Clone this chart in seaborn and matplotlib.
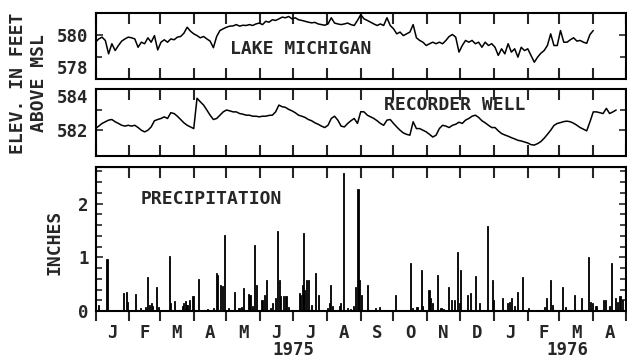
import numpy as np
import pandas as pd
import matplotlib
matplotlib.use("Agg")
import matplotlib.pyplot as plt
import seaborn as sns
from matplotlib.ticker import MultipleLocator

# ---------------- data ----------------
START = pd.Timestamp("1975-01-01")
END = pd.Timestamp("1976-05-01")
STEP_DAYS = 3  # readings every 3 days

# Lake Michigan elevation, ft above MSL (every 3 days from 1975-01-01)
lake_ft = [
    579.65, 579.80, 579.88, 579.73, 579.12, 579.58, 579.27, 579.50, 579.70, 579.80,
    579.88, 579.85, 579.80, 579.42, 579.65, 579.58, 579.85, 579.65, 579.95, 579.30,
    579.65, 579.76, 579.65, 579.80, 579.76, 579.88, 579.91, 580.06, 580.33, 580.15,
    580.03, 579.95, 579.85, 579.91, 579.80, 579.70, 579.40, 579.91, 580.18, 580.26,
    580.33,
    580.38, 580.39, 580.45, 580.38, 580.42, 580.41, 580.45, 580.41, 580.48, 580.52,
    580.45, 580.60, 580.56, 580.67, 580.64, 580.71, 580.79, 580.76, 580.82, 580.71,
    580.76, 580.67, 580.64, 580.60, 580.56, 580.53, 580.55, 580.48, 580.45, 580.42,
    580.48, 580.76, 580.52, 580.48, 580.45, 580.48, 580.52, 580.45, 580.41, 580.64,
    580.90,
    580.71, 580.64, 580.56, 580.48, 580.41, 580.48, 580.41, 580.76, 580.41, 580.26,
    580.03, 580.11, 579.95, 580.03, 580.11, 580.45, 579.85, 579.73, 579.65, 579.50,
    579.58, 579.65, 579.58, 579.65, 579.58, 579.73, 579.91, 580.00, 579.88, 579.20,
    579.50, 579.73, 579.65, 579.73, 579.58, 579.65, 579.42, 579.65, 579.50, 579.58,
    579.42, 579.05, 579.35, 579.12, 579.58, 579.20, 579.35, 578.97, 579.42, 579.27,
    579.35, 579.05, 578.74, 578.97, 579.15, 579.27, 579.50, 580.03, 579.50, 579.50,
    580.18, 579.65, 579.65, 579.76, 579.85, 579.70, 579.73, 579.65, 579.60, 580.00,
    580.18,
]

# Recorder well elevation, ft above MSL (every 3 days from 1975-01-01)
well_ft = [
    582.08, 582.20, 582.33, 582.41, 582.49, 582.52, 582.41, 582.33, 582.24, 582.20,
    582.24, 582.20, 582.24, 582.13, 582.00, 581.92, 582.00, 582.16, 582.46, 582.52,
    582.57, 582.65, 582.57, 582.85, 582.81, 582.68, 582.52, 582.36, 582.24, 582.16,
    582.08, 583.55, 583.38, 583.22, 582.98, 582.73, 582.52, 582.57, 582.73, 582.89,
    582.98,
    582.94, 582.89, 582.89, 582.81, 582.78, 582.73, 582.73, 582.68, 582.68, 582.65,
    582.68, 582.68, 582.72, 582.73, 582.89, 583.22, 583.14, 583.11, 583.01, 582.94,
    582.85, 582.73, 582.68, 582.62, 582.52, 582.46, 582.36, 582.29, 582.20, 582.13,
    582.24, 582.57, 582.68, 582.49, 582.20, 582.16, 582.33, 582.46, 582.57, 582.33,
    582.90,
    582.89, 582.73, 582.65, 582.57, 582.46, 582.33, 582.24, 582.49, 582.52, 582.33,
    582.16, 582.00, 581.87, 581.80, 581.76, 582.41, 582.08, 582.08, 582.00, 581.92,
    581.80, 581.67, 581.76, 582.08, 582.24, 582.20, 582.13, 582.24, 582.29, 582.39,
    582.33, 582.49, 582.57, 582.68, 582.73, 582.62, 582.46, 582.36, 582.24, 582.13,
    582.13, 581.97, 581.84, 581.77, 581.71, 581.64, 581.58, 581.51, 581.48, 581.43,
    581.38, 581.30, 581.28, 581.35, 581.45, 581.61, 581.80, 582.00, 582.23, 582.33,
    582.37, 582.42, 582.44, 582.41, 582.34, 582.24, 582.13, 582.05, 581.97, 582.41,
    582.89, 582.89, 582.85, 582.81, 583.06, 582.81, 582.89, 582.98,
]

# Daily precipitation events: day number since 1975-01-01, inches
precip_day = [
    2, 10, 25, 28, 29, 36, 41, 45, 47, 49, 51, 52, 55, 57, 67, 68, 72, 79, 80, 82,
    83, 84, 86, 88, 89, 94, 102, 108, 110, 111, 114, 116, 118, 121, 127, 131, 133,
    135, 140, 141, 143, 145, 147, 152, 154, 156, 160, 162, 164, 166, 168, 169, 172,
    174, 176, 186, 187, 189, 190, 191, 193, 195, 197, 201, 204, 212, 214, 215, 217,
    223, 224, 227, 230, 233, 236, 238, 240, 241, 243, 249, 256, 260, 274, 288, 290,
    294, 298, 299, 305, 306, 308, 313, 316, 318, 323, 326, 328, 331, 333, 334, 340,
    343, 348, 351, 359, 363, 364, 372, 377, 379, 381, 383, 386, 391, 396, 400, 411,
    413, 416, 418, 427, 430, 438, 445, 451, 453, 455, 458, 465, 467, 470, 472, 476,
    478, 480, 482,
]
precip_in = [
    0.11, 0.96, 0.33, 0.36, 0.17, 0.31, 0.05, 0.08, 0.63, 0.11, 0.14, 0.10, 0.45, 0.08, 1.02, 0.14, 0.19, 0.10, 0.15, 0.19,
    0.11, 0.12, 0.20, 0.27, 0.28, 0.59, 0.03, 0.05, 0.71, 0.67, 0.48, 0.47, 1.42, 0.05, 0.36, 0.05, 0.08,
    0.42, 0.31, 0.30, 0.10, 1.22, 0.48, 0.20, 0.30, 0.58, 0.05, 0.14, 0.25, 1.48, 0.58, 0.28, 0.27,
    0.27, 0.08, 0.33, 0.30, 0.48, 1.45, 0.39, 0.58, 0.58, 0.12, 0.70, 0.30, 0.05, 0.14, 0.48, 0.10,
    0.10, 0.14, 2.56, 0.05, 0.04, 0.10, 0.45, 2.27, 0.58, 0.30, 0.48, 0.05, 0.08, 0.30, 0.89, 0.05,
    0.08, 0.76, 0.10, 0.39, 0.24, 0.15, 0.67, 0.05, 0.04, 0.45, 0.20, 0.20, 1.10, 0.14, 0.76, 0.30,
    0.33, 0.65, 0.14, 1.58, 0.58, 0.20, 0.25, 0.14, 0.17, 0.24, 0.10, 0.36, 0.64, 0.05, 0.02, 0.08,
    0.24, 0.58, 0.11, 0.44, 0.08, 0.30, 0.25, 1.00, 0.16, 0.15, 0.09, 0.20, 0.20, 0.10, 0.90, 0.24,
    0.17, 0.27, 0.20,
]

month_labels = list("JFMAMJJASONDJFMA")
year_labels = ["1975", "1976"]
year_dates = ["1975-07-01", "1976-03-08"]

# ---------------- derived positions ----------------
lake_days = np.arange(len(lake_ft)) * STEP_DAYS
well_days = np.arange(len(well_ft)) * STEP_DAYS
month_starts = pd.date_range(START, END, freq="MS")
month_days = np.array([(d - START).days for d in month_starts])
mid_days = (month_days[:-1] + month_days[1:]) / 2.0
year_days = [(pd.Timestamp(d) - START).days for d in year_dates]
total_days = (END - START).days

# ---------------- style ----------------
sns.set_style("ticks")
plt.rcParams["font.family"] = ["DejaVu Sans Mono", "DejaVu Sans"]
plt.rcParams["font.weight"] = "bold"

W, H = 627, 360
fig = plt.figure(figsize=(W / 100, H / 100), dpi=100)

def box(l, t, r, b):
    return [l / W, 1 - b / H, (r - l) / W, (b - t) / H]

ax1 = fig.add_axes(box(95.5, 12.5, 626, 78.5))
ax2 = fig.add_axes(box(95.5, 89, 626, 156))
ax3 = fig.add_axes(box(95.5, 167, 626, 311))

sns.lineplot(x=lake_days, y=lake_ft, ax=ax1, color="black", linewidth=1.1)
sns.lineplot(x=well_days, y=well_ft, ax=ax2, color="black", linewidth=1.1)
sns.histplot(x=precip_day, weights=precip_in, binwidth=1, binrange=(0, total_days),
             color="black", alpha=1, edgecolor="black", linewidth=0.6, ax=ax3)

TICKFS = 12.5
for ax in (ax1, ax2, ax3):
    ax.set_xlim(0, total_days)
    ax.set_xlabel("")
    ax.set_ylabel("")
    for s in ax.spines.values():
        s.set_visible(True)
        s.set_linewidth(1.5)
        s.set_color("black")
    ax.set_xticks(month_days)
    ax.tick_params(axis="y", which="both", direction="in", left=True, right=True,
                   width=1.2, labelsize=TICKFS, pad=5)
    ax.tick_params(axis="y", which="major", length=5)
    ax.tick_params(axis="y", which="minor", length=4)

for ax in (ax1, ax2):
    ax.tick_params(axis="x", which="major", direction="in", top=True, bottom=True,
                   length=8, width=1.5, labelbottom=False)

ax1.set_ylim(578, 581)
ax1.set_yticks([578, 580])
ax1.set_yticks([579], minor=True)

ax2.set_ylim(580.75, 584)
ax2.set_yticks([582, 584])
ax2.set_yticks([583], minor=True)

ax3.set_ylim(0, 2.68)
ax3.set_yticks([0, 1, 2])
ax3.yaxis.set_minor_locator(MultipleLocator(0.2))
ax3.tick_params(axis="x", which="major", direction="out", bottom=True, top=False,
                length=7, width=1.5, labelbottom=False)
ax3.set_xticks(mid_days, labels=month_labels, minor=True)
ax3.tick_params(axis="x", which="minor", length=0, pad=9, labelsize=TICKFS)
sec = ax3.secondary_xaxis("top")
sec.set_xticks(month_days)
sec.tick_params(axis="x", direction="in", length=8, width=1.5, labeltop=False)

# keep the stacked 578 / 584 labels from colliding (as in the reference)
fig.canvas.draw()
ax1.get_yticklabels()[0].set_verticalalignment("bottom")
ax2.get_yticklabels()[-1].set_verticalalignment("top")

for d, lab in zip(year_days, year_labels):
    ax3.text(d, -0.27, lab, transform=ax3.get_xaxis_transform(), ha="center",
             va="center", fontsize=TICKFS)

TXTFS = 13
fig.text(301 / W, 1 - 49.5 / H, "LAKE MICHIGAN", ha="center", va="center", fontsize=TXTFS)
fig.text(454.5 / W, 1 - 105 / H, "RECORDER WELL", ha="center", va="center", fontsize=TXTFS)
fig.text(211.5 / W, 1 - 198.5 / H, "PRECIPITATION", ha="center", va="center", fontsize=TXTFS)
fig.text(18.5 / W, 1 - 83 / H, "ELEV. IN FEET", rotation=90, ha="center", va="center", fontsize=TXTFS)
fig.text(39.5 / W, 1 - 83 / H, "ABOVE MSL", rotation=90, ha="center", va="center", fontsize=TXTFS)
fig.text(54.5 / W, 1 - 242 / H, "INCHES", rotation=90, ha="center", va="center", fontsize=TXTFS)

fig.savefig("out.png", dpi=100, facecolor="white")
